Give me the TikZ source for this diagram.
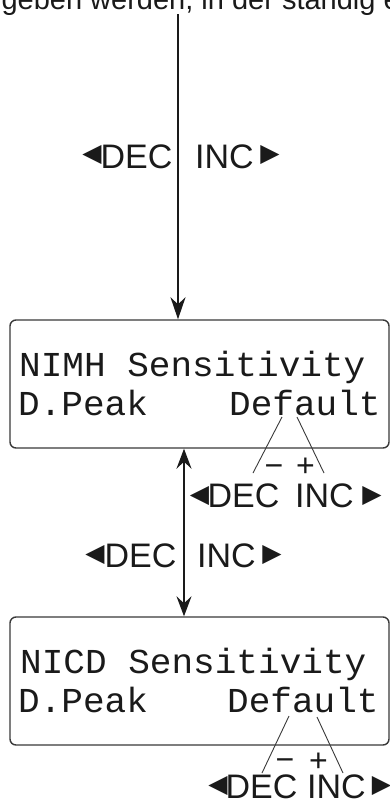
\documentclass[tikz,border=0pt]{standalone}
\usepackage{fontspec}
\setmainfont{Liberation Sans}
\newfontfamily\lcdfont[FakeStretch=1.03]{Liberation Mono}
\newfontfamily\trifont{DejaVu Sans}
\usetikzlibrary{arrows.meta}
\definecolor{ink}{HTML}{1A1A1A}
\definecolor{boxline}{HTML}{3A3A3A}
\tikzset{
 lcdbox/.style={draw=boxline, line width=1.4pt, rounded corners=6pt, minimum width=379pt, minimum height=128pt, inner sep=0pt},
 lcdtext/.style={inner sep=0pt, anchor=base west, text=ink, font=\lcdfont\fontsize{35}{36}\selectfont},
 lbl/.style={inner sep=0pt, anchor=base west, text=ink, font=\fontsize{34}{35}\selectfont},
 tri/.style={inner sep=0pt, text=ink, font=\trifont\fontsize{25}{25}\selectfont},
 pm/.style={inner sep=0pt, anchor=base, text=ink, font=\fontsize{32}{32}\selectfont},
 arr/.style={line width=1.6pt, draw=ink, -{Stealth[length=22pt,width=15pt,inset=7pt]}},
 darr/.style={line width=1.6pt, draw=ink, {Stealth[length=20pt,width=15pt,inset=7pt]}-{Stealth[length=20pt,width=15pt,inset=7pt]}},
 thinline/.style={line width=0.9pt, draw=boxline},
}
\begin{document}
\begin{tikzpicture}[x=1pt,y=-1pt]
\useasboundingbox (0,0) rectangle (390,801);
\clip (0,0) rectangle (390,801);
\fill[white] (0,0) rectangle (390,801);

% clipped running text at top
\node[anchor=base east, inner sep=0pt, text=ink, font=\fontsize{29}{30}\selectfont] (runtext) at (400,9) {geben werden, in der ständig e};

% boxes
\node[lcdbox] (box1) at (199.5,384) {};
\node[lcdbox] (box2) at (199.5,681) {};

% box 1 text
\node[lcdtext] (b1r1) at (19,376) {NIMH Sensitivity};
\node[lcdtext] (b1r2a) at (18,415) {D.Peak};
\node[lcdtext] (b1r2b) at (229,415) {Default};

% box 2 text
\node[lcdtext] (b2r1) at (20,673) {NICD Sensitivity};
\node[lcdtext] (b2r2a) at (18,712) {D.Peak};
\node[lcdtext] (b2r2b) at (227,712) {Default};

% top arrow
\coordinate (topstart) at (178,14);
\draw[arr] (topstart) -- (topstart |- box1.north);
\node[tri] (t0l) at (92,155.5) {◀};
\node[lbl] (t0d) at (100.4,168) {DEC};
\node[lbl] (t0i) at (195,168) {INC};
\node[tri] (t0r) at (270,155.5) {▶};

% middle double arrow
\coordinate (midx) at (184,0);
\draw[darr] (midx |- box1.south) -- (midx |- box2.north);
\node[tri] (t1l) at (95,555) {◀};
\node[lbl] (t1d) at (104.4,567) {DEC};
\node[lbl] (t1i) at (197,567) {INC};
\node[tri] (t1r) at (272,555) {▶};

% box 1 annotation
\coordinate (b1la) at (282,417);
\coordinate (b1lb) at (253,473);
\coordinate (b1ra) at (297,417);
\coordinate (b1rb) at (324,473);
\draw[thinline] (b1la) -- (b1lb);
\draw[thinline] (b1ra) -- (b1rb);
\node[pm] (b1m) at (274,476) {−};
\node[pm] (b1p) at (305.5,476) {+};
\node[tri] (t2l) at (199.5,496) {◀};
\node[lbl] (t2d) at (207.4,507) {DEC};
\node[lbl] (t2i) at (295,507) {INC};
\node[tri] (t2r) at (372,496) {▶};

% box 2 annotation
\coordinate (b2la) at (289,716);
\coordinate (b2lb) at (262,773);
\coordinate (b2ra) at (317,717);
\coordinate (b2rb) at (343,773);
\draw[thinline] (b2la) -- (b2lb);
\draw[thinline] (b2ra) -- (b2rb);
\node[pm] (b2m) at (285,770) {−};
\node[pm] (b2p) at (318.5,771) {+};
\node[tri] (t3l) at (218,786) {◀};
\node[lbl] (t3d) at (225.4,798) {DEC};
\node[lbl] (t3i) at (307,798) {INC};
\node[tri] (t3r) at (381.5,786) {▶};
\end{tikzpicture}
\end{document}
